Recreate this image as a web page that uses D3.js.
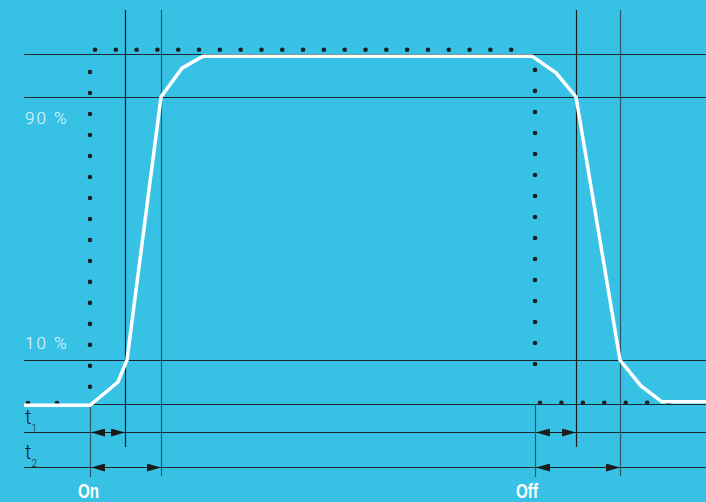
<!DOCTYPE html>
<html>
<head>
<meta charset="utf-8">
<script src="https://cdn.jsdelivr.net/npm/d3@7"></script>
<style>
  body { margin: 0; background: #37c2e5; }
  svg { display: block; }
</style>
</head>
<body>
<div id="chart"></div>
<script>
// level values in %, time in arbitrary units from the left edge
var levelTicks = [10, 90];
var levelLabels = ["10 %", "90 %"];
var refLevels = [0, 10, 90, 100];

var switchLabels = ["On", "Off"];
var switchTimes = [66, 511];   // control signal edges
var t1Times = [101, 552];      // output crosses 10 % / 90 %
var t2Times = [137, 596];      // output crosses 90 % / 10 %
var rowLabels = ["1", "2"];

// output response (white line)
var outputCurve = [
    [0, -0.3], [66, -0.3], [94, 5], [103, 10], [137, 90], [158, 96.7], [179, 99.5],
    [508, 99.5], [532, 95.6], [552, 90], [596, 10], [617, 4.1], [638, 0.5], [682, 0.5]
];

// control signal (dotted), each run with its number of dots
var controlRuns = [
    {from: [4, 0.2],   to: [62, 0.2],   dots: 3},
    {from: [66, 3.9],  to: [66, 95.8],  dots: 16},
    {from: [71, 101],  to: [508, 101],  dots: 22},
    {from: [511, 96.3], to: [511, 4.3], dots: 16},
    {from: [516, 0.3], to: [666, 0.3],  dots: 8}
];

let width = 706;
let height = 502;
let topY = 10;
let rowY = [432, 467];
let rowEnd = [447, 476];

var x = d3.scaleLinear().domain([0, 682]).range([24, 706]);
// drawing is not to scale: the 10/90 % lines sit closer to the ends
var y = d3.scaleLinear().domain([0, 10, 90, 100]).range([404, 360, 97, 54]);

var svg = d3.select("#chart").append("svg").attr("width", width).attr("height", height);

svg.append("rect").attr("width", width).attr("height", height).attr("fill", "#37c2e5");

var defs = svg.append("defs");
defs.append("marker")
    .attr("id", "head")
    .attr("markerUnits", "userSpaceOnUse")
    .attr("markerWidth", 14).attr("markerHeight", 8)
    .attr("refX", 14).attr("refY", 4)
    .attr("orient", "auto-start-reverse")
    .append("path")
    .attr("d", "M0,0 L14,4 L0,8 Z")
    .attr("fill", "#1b1b1b");

// horizontal reference lines
svg.append("g")
    .selectAll("line")
    .data(refLevels)
    .enter()
    .append("line")
    .attr("x1", x(0)).attr("x2", x(682))
    .attr("y1", d => Math.round(y(d)) + 0.5)
    .attr("y2", d => Math.round(y(d)) + 0.5)
    .attr("stroke", "#1b2a30")
    .attr("stroke-width", 1);

// timing rows
svg.append("g")
    .selectAll("line")
    .data(rowY)
    .enter()
    .append("line")
    .attr("x1", x(0)).attr("x2", x(682))
    .attr("y1", d => d + 0.5).attr("y2", d => d + 0.5)
    .attr("stroke", "#1b2a30")
    .attr("stroke-width", 1);

// vertical lines at t1 / t2
var vLines = [];
t1Times.forEach(t => vLines.push({t: t, end: rowEnd[0], col: "#1b1b1b"}));
t2Times.forEach(t => vLines.push({t: t, end: rowEnd[1], col: "#2d5866"}));
switchTimes.forEach(t => vLines.push({t: t, start: y(0), end: rowEnd[1] + 1, col: "#2d5866"}));

svg.append("g")
    .selectAll("line")
    .data(vLines)
    .enter()
    .append("line")
    .attr("x1", d => Math.round(x(d.t)) + 0.5)
    .attr("x2", d => Math.round(x(d.t)) + 0.5)
    .attr("y1", d => d.start === undefined ? topY : d.start)
    .attr("y2", d => d.end)
    .attr("stroke", d => d.col)
    .attr("stroke-width", 1.2);

// control signal dots
svg.append("g")
    .selectAll("path")
    .data(controlRuns)
    .enter()
    .append("path")
    .attr("d", d => "M" + x(d.from[0]) + "," + y(d.from[1]) + "L" + x(d.to[0]) + "," + y(d.to[1]))
    .attr("fill", "none")
    .attr("stroke", "#1a1f26")
    .attr("stroke-width", 4.6)
    .attr("stroke-linecap", "round")
    .attr("stroke-dasharray", function(d) {
        var len = Math.hypot(x(d.to[0]) - x(d.from[0]), y(d.to[1]) - y(d.from[1]));
        return "0 " + (len / (d.dots - 1));
    });

// output response
svg.append("path")
    .datum(outputCurve)
    .attr("fill", "none")
    .attr("stroke", "#ffffff")
    .attr("stroke-width", 3.5)
    .attr("stroke-linejoin", "miter")
    .attr("d", d3.line().x(d => x(d[0])).y(d => y(d[1])));

// timing arrows
var arrows = [];
switchTimes.forEach((s, i) => {
    arrows.push({a: s, b: t1Times[i], row: 0});
    arrows.push({a: s, b: t2Times[i], row: 1});
});

svg.append("g")
    .selectAll("line")
    .data(arrows)
    .enter()
    .append("line")
    .attr("x1", d => x(d.a) + 1).attr("x2", d => x(d.b))
    .attr("y1", d => rowY[d.row] + 0.5).attr("y2", d => rowY[d.row] + 0.5)
    .attr("stroke", "#1b1b1b")
    .attr("stroke-width", 1)
    .attr("marker-start", "url(#head)")
    .attr("marker-end", "url(#head)");

// level labels
svg.append("g")
    .selectAll("text")
    .data(levelTicks)
    .enter()
    .append("text")
    .attr("x", x(0) + 1)
    .attr("y", (d, i) => i == 0 ? y(d) - 11 : y(d) + 27)
    .attr("fill", "#eaf8fc")
    .attr("font-family", "Roboto, sans-serif")
    .attr("font-weight", 300)
    .attr("font-size", 17)
    .attr("letter-spacing", 2)
    .text((d, i) => levelLabels[i]);

// t1 / t2 labels
var tLab = svg.append("g")
    .selectAll("text")
    .data(rowLabels)
    .enter()
    .append("text")
    .attr("x", x(0) + 1)
    .attr("y", (d, i) => rowY[i] - 8)
    .attr("fill", "#1b1b1b")
    .attr("font-family", "Roboto, sans-serif")
    .attr("font-weight", 300)
    .attr("font-size", 20);
tLab.append("tspan").text("t");
tLab.append("tspan")
    .attr("font-size", 10)
    .attr("dy", 8)
    .text(d => d);

// switch labels, bold condensed
svg.append("g")
    .selectAll("text")
    .data(switchLabels)
    .enter()
    .append("text")
    .attr("transform", (d, i) => "translate(" + (x(switchTimes[i]) - (i == 0 ? 1.5 : 8)) + ",497.5) scale(0.76,1)")
    .attr("text-anchor", "middle")
    .attr("fill", "#ffffff")
    .attr("font-family", "'Liberation Sans', Arial, sans-serif")
    .attr("font-weight", "bold")
    .attr("font-size", 20)
    .text(d => d);
</script>
</body>
</html>
